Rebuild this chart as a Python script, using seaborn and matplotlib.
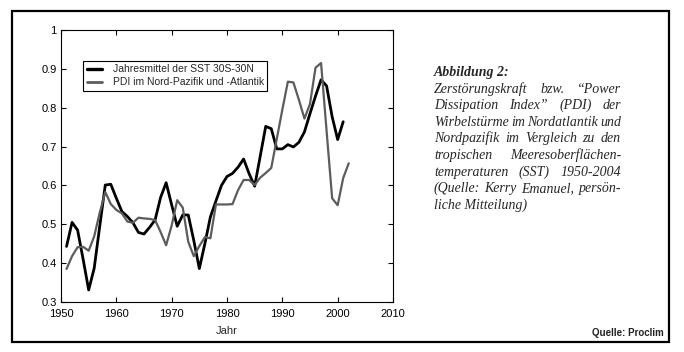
import numpy as np
import pandas as pd
import matplotlib
matplotlib.use("Agg")
import matplotlib.pyplot as plt
import seaborn as sns
from matplotlib.patches import Rectangle
from matplotlib.lines import Line2D

# ---- data ----
sst_years = list(range(1951, 2002))
sst_values = [0.443, 0.505, 0.485, 0.41, 0.331, 0.387, 0.495, 0.601, 0.603, 0.567,
              0.533, 0.52, 0.504, 0.479, 0.475, 0.492, 0.511, 0.569, 0.607, 0.55,
              0.495, 0.524, 0.524, 0.458, 0.386, 0.45, 0.519, 0.56, 0.6, 0.623,
              0.631, 0.647, 0.668, 0.63, 0.598, 0.675, 0.752, 0.746, 0.694, 0.694,
              0.705, 0.699, 0.711, 0.738, 0.785, 0.83, 0.872, 0.856, 0.777, 0.718,
              0.764]
pdi_years = list(range(1951, 2003))
pdi_values = [0.385, 0.418, 0.441, 0.442, 0.432, 0.469, 0.53, 0.583, 0.552, 0.537,
              0.528, 0.507, 0.504, 0.517, 0.515, 0.514, 0.511, 0.48, 0.446, 0.497,
              0.562, 0.543, 0.455, 0.418, 0.444, 0.467, 0.464, 0.551, 0.551, 0.551,
              0.552, 0.588, 0.614, 0.614, 0.601, 0.62, 0.632, 0.645, 0.72, 0.795,
              0.867, 0.865, 0.82, 0.772, 0.81, 0.903, 0.915, 0.74, 0.567, 0.549,
              0.619, 0.657]
series_names = ["Jahresmittel der SST 30S-30N", "PDI im Nord-Pazifik und -Atlantik"]
x_ticks = [1950, 1960, 1970, 1980, 1990, 2000, 2010]
y_ticks = [0.3, 0.4, 0.5, 0.6, 0.7, 0.8, 0.9, 1.0]
y_tick_labels = ["0.3", "0.4", "0.5", "0.6", "0.7", "0.8", "0.9", "1"]
x_label = "Jahr"
caption_title = "Abbildung 2:"
caption_lines = ["Zerstörungskraft bzw. “Power",
                 "Dissipation Index” (PDI) der",
                 "Wirbelstürme im Nordatlantik und",
                 "Nordpazifik im Vergleich zu den",
                 "tropischen Meeresoberflächen-",
                 "temperaturen (SST) 1950-2004",
                 "(Quelle: Kerry Emanuel, persön-",
                 "liche Mitteilung)"]
source_text = "Quelle: Proclim"

df = pd.concat([
    pd.DataFrame({"Jahr": sst_years, "Wert": sst_values, "Reihe": series_names[0]}),
    pd.DataFrame({"Jahr": pdi_years, "Wert": pdi_values, "Reihe": series_names[1]}),
], ignore_index=True)

sns.set_style("ticks")
plt.rcParams["font.family"] = ["Liberation Sans", "DejaVu Sans"]

W, H = 684, 352
fig = plt.figure(figsize=(W / 100, H / 100), dpi=100)
fig.patch.set_facecolor("white")
ax = fig.add_axes([61 / W, 1 - 302 / H, (393 - 61) / W, (302 - 30) / H])

palette = {series_names[0]: "#000000", series_names[1]: "#5c5c5c"}
sns.lineplot(data=df, x="Jahr", y="Wert", hue="Reihe", palette=palette, ax=ax,
             legend=False)
lines = ax.get_lines()
lines[0].set_linewidth(2.0)
lines[1].set_linewidth(1.6)

ax.set_xlim(1950, 2010)
ax.set_ylim(0.3, 1.0)
ax.set_xticks(x_ticks)
ax.set_xticklabels([str(t) for t in x_ticks])
ax.set_yticks(y_ticks)
ax.set_yticklabels(y_tick_labels)
ax.set_xlabel(x_label, fontsize=8, labelpad=5)
ax.set_ylabel("")
ax.tick_params(direction="in", length=3.5, width=0.8, top=True, right=True,
               labelsize=8, colors="black")
ax.tick_params(axis="x", pad=5)
ax.tick_params(axis="y", pad=3)
for s in ax.spines.values():
    s.set_visible(True)
    s.set_linewidth(0.8)
    s.set_color("black")

handles = [Line2D([], [], color="#000000", lw=2.4),
           Line2D([], [], color="#5c5c5c", lw=2.0)]
leg = ax.legend(handles, series_names, loc="upper left",
                bbox_to_anchor=((83 - 61) / 332, (302 - 60.5) / 272),
                fontsize=7.5, frameon=True, fancybox=False, framealpha=1,
                edgecolor="black", borderpad=0.35, handlelength=1.5,
                handletextpad=1.0, labelspacing=0.3, borderaxespad=0)
leg.get_frame().set_linewidth(0.8)

# ---- caption (justified) ----
renderer = fig.canvas.get_renderer()
x_left, x_right = 434.0, 621.0
base0 = 76.0
dy = 16.6
serif = ["Liberation Serif", "DejaVu Serif"]
fig.text(x_left / W, 1 - base0 / H, caption_title, family=serif, style="italic",
         weight="bold", fontsize=10, va="baseline", ha="left")
for i, line in enumerate(caption_lines):
    yb = 1 - (base0 + dy * (i + 1)) / H
    words = line.split(" ")
    if i == len(caption_lines) - 1:
        fig.text(x_left / W, yb, line, family=serif, style="italic", fontsize=10,
                 va="baseline", ha="left")
        continue
    objs = [fig.text(0, yb, w, family=serif, style="italic", fontsize=10,
                     va="baseline", ha="left") for w in words]
    widths = [o.get_window_extent(renderer).width for o in objs]
    gap = (x_right - x_left - sum(widths)) / max(len(words) - 1, 1)
    gap = max(gap, 2.0)
    x = x_left
    for o, wd in zip(objs, widths):
        o.set_x(x / W)
        x += wd + gap

fig.text(664 / W, 1 - 336.5 / H, source_text, fontsize=7, weight="bold",
         ha="right", va="baseline", color="#222222")

# outer frame
fig.patches.append(Rectangle((12 / W, 1 - 342 / H), (669 - 12) / W, (342 - 11) / H,
                             transform=fig.transFigure, fill=False,
                             edgecolor="black", linewidth=1.6))

fig.savefig("out.png", dpi=100)
